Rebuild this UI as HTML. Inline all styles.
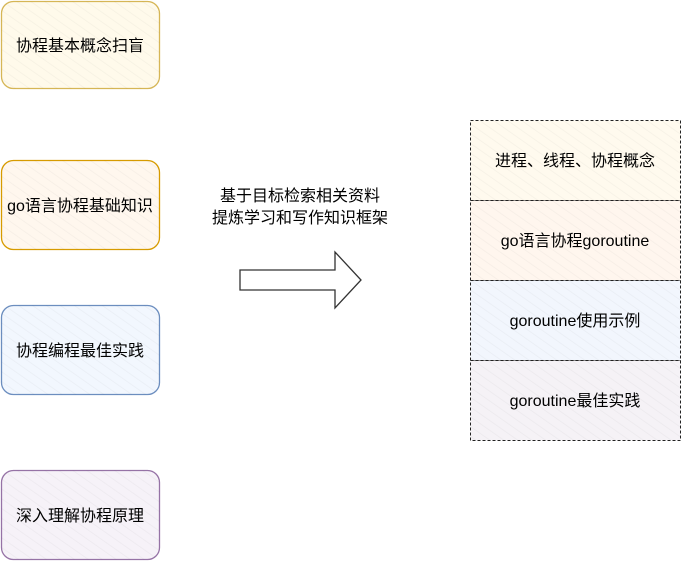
<!DOCTYPE html>
<html><head><meta charset="utf-8"><style>
body{margin:0;width:681px;height:561px;background:#fff;overflow:hidden}
</style></head><body>
<svg width="681" height="561" xmlns="http://www.w3.org/2000/svg" font-family="Liberation Sans, Noto Sans CJK SC, sans-serif" font-size="16">
<defs>
<pattern id="h" width="8" height="8" patternUnits="userSpaceOnUse" patternTransform="rotate(-55)">
<line x1="0" y1="0" x2="0" y2="8" stroke="#000" stroke-opacity="0.04" stroke-width="1.5"/>
</pattern>
</defs>
<g stroke-width="1.3">
<rect x="1.5" y="1.5" width="158" height="87" rx="12" fill="#fffaeb" stroke="#d6b656"/>
<rect x="1.5" y="1.5" width="158" height="87" rx="12" fill="url(#h)" stroke="none"/>
<rect x="1.5" y="160.5" width="158" height="89" rx="12" fill="#fff7ee" stroke="#d79b00"/>
<rect x="1.5" y="160.5" width="158" height="89" rx="12" fill="url(#h)" stroke="none"/>
<rect x="1.5" y="305.5" width="158" height="89" rx="12" fill="#f2f7fe" stroke="#6c8ebf"/>
<rect x="1.5" y="305.5" width="158" height="89" rx="12" fill="url(#h)" stroke="none"/>
<rect x="1.5" y="470.5" width="158" height="89" rx="12" fill="#f6f2f8" stroke="#9673a6"/>
<rect x="1.5" y="470.5" width="158" height="89" rx="12" fill="url(#h)" stroke="none"/>
</g>
<g text-anchor="middle" fill="#000">
<text x="80" y="51">协程基本概念扫盲</text>
<text x="80" y="211">go语言协程基础知识</text>
<text x="80" y="356">协程编程最佳实践</text>
<text x="80" y="521">深入理解协程原理</text>
<text x="300" y="201">基于目标检索相关资料</text>
<text x="300" y="223">提炼学习和写作知识框架</text>
</g>
<path d="M240,270 H335 V252 L361,280 L335,308 V290 H240 Z" fill="#fff" stroke="#333" stroke-width="1.3"/>
<g stroke="#222" stroke-width="1" stroke-dasharray="3,2">
<rect x="470.5" y="120.5" width="210" height="80" fill="#fffaee"/>
<rect x="470.5" y="200.5" width="210" height="80" fill="#fff6ee"/>
<rect x="470.5" y="280.5" width="210" height="80" fill="#f2f6fd"/>
<rect x="470.5" y="360.5" width="210" height="80" fill="#f5f2f6"/>
</g>
<rect x="470.5" y="120.5" width="210" height="320" fill="url(#h)"/>
<g text-anchor="middle" fill="#000">
<text x="575" y="166">进程、线程、协程概念</text>
<text x="575" y="246">go语言协程goroutine</text>
<text x="575" y="326">goroutine使用示例</text>
<text x="575" y="406">goroutine最佳实践</text>
</g>
</svg>
</body></html>
